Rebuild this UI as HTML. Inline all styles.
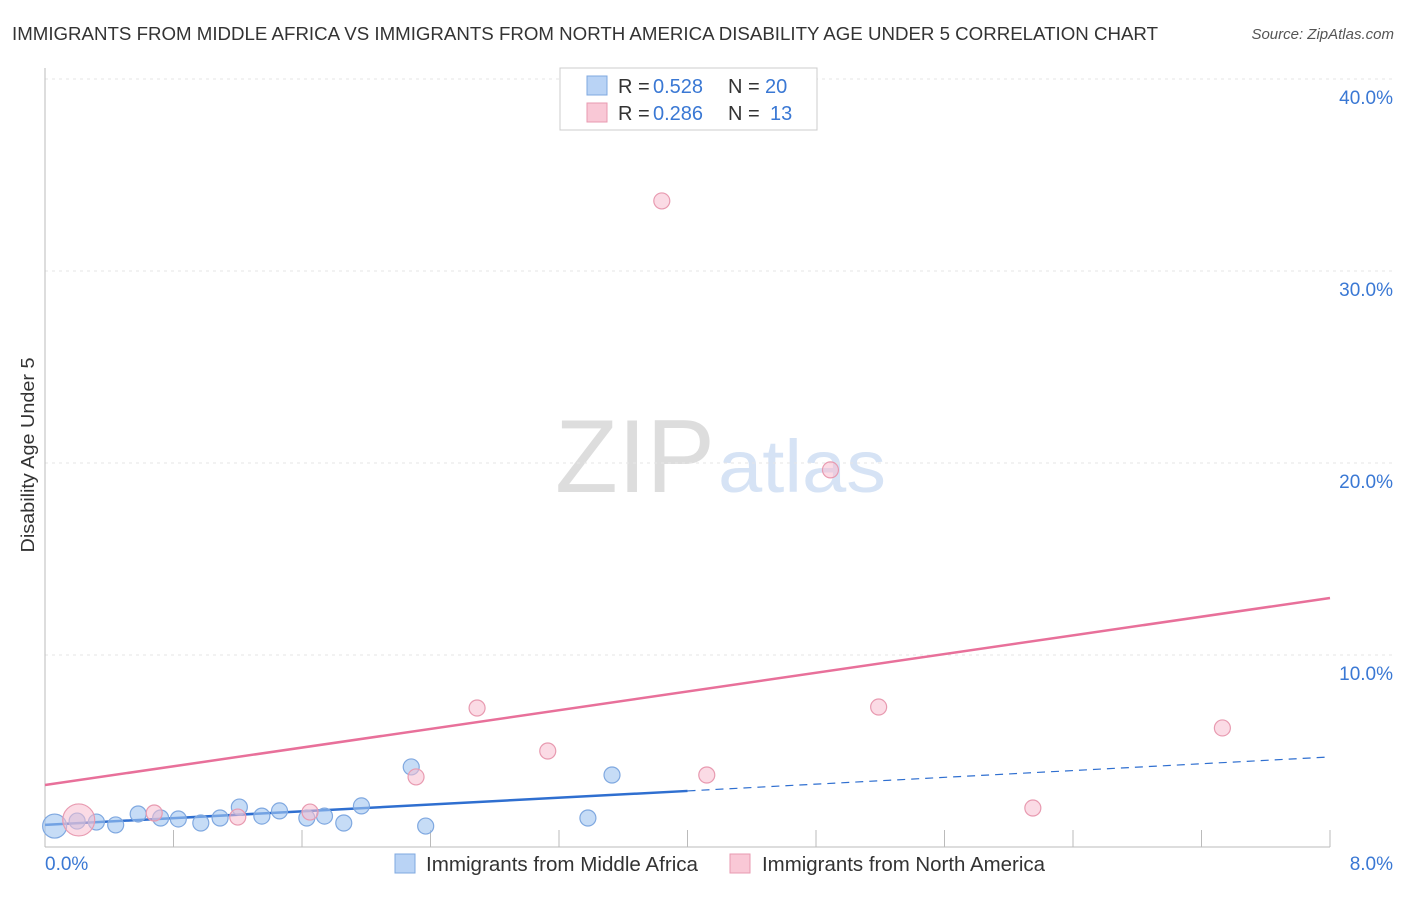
<!DOCTYPE html>
<html><head><meta charset="utf-8"><style>
body{margin:0;background:#fff;font-family:"Liberation Sans",sans-serif;}
svg text{font-family:"Liberation Sans",sans-serif;}
</style></head><body>
<svg id="c" width="1406" height="892" xmlns="http://www.w3.org/2000/svg">
<text x="12" y="40" font-size="18" fill="#333" textLength="1146" lengthAdjust="spacingAndGlyphs">IMMIGRANTS FROM MIDDLE AFRICA VS IMMIGRANTS FROM NORTH AMERICA DISABILITY AGE UNDER 5 CORRELATION CHART</text>
<text x="1394" y="39" font-size="15" fill="#555" font-style="italic" text-anchor="end">Source: ZipAtlas.com</text>
<text transform="translate(34,455) rotate(-90)" font-size="18" fill="#333" text-anchor="middle" textLength="195" lengthAdjust="spacingAndGlyphs">Disability Age Under 5</text>
<text x="555" y="492" font-size="104" fill="#ddd" font-family="Liberation Serif" textLength="160" lengthAdjust="spacingAndGlyphs">ZIP</text>
<text x="718" y="492" font-size="74" fill="#d6e3f5" textLength="168" lengthAdjust="spacingAndGlyphs">atlas</text>
<g id="grid"></g><g id="axes"></g><g id="lines"></g><g id="pts"></g>
<g>
<rect x="560" y="68" width="257" height="62" fill="#fff" stroke="#ccc"/>
<rect x="587" y="76" width="20" height="19" fill="#b9d3f5" stroke="#7fa8e0"/>
<rect x="587" y="103" width="20" height="19" fill="#f9c8d6" stroke="#e89ab0"/>
<text y="93" font-size="20" fill="#333"><tspan x="618">R =</tspan><tspan x="653" fill="#3a78d4">0.528</tspan><tspan x="728">N =</tspan><tspan x="765" fill="#3a78d4">20</tspan></text>
<text y="120" font-size="20" fill="#333"><tspan x="618">R =</tspan><tspan x="653" fill="#3a78d4">0.286</tspan><tspan x="728">N =</tspan><tspan x="770" fill="#3a78d4">13</tspan></text>
</g>
<g>
<rect x="395" y="854" width="20" height="19" fill="#b9d3f5" stroke="#7fa8e0"/>
<text x="426" y="871" font-size="20" fill="#333" textLength="272" lengthAdjust="spacingAndGlyphs">Immigrants from Middle Africa</text>
<rect x="730" y="854" width="20" height="19" fill="#f9c8d6" stroke="#e89ab0"/>
<text x="762" y="871" font-size="20" fill="#333" textLength="283" lengthAdjust="spacingAndGlyphs">Immigrants from North America</text>
</g>
</svg>
<script>
const blueX=[0.06,0.20,0.32,0.44,0.58,0.72,0.83,0.97,1.09,1.21,1.35,1.46,1.63,1.74,1.86,1.97,2.28,2.37,3.38,3.53];
const blueY=[1.09,1.35,1.30,1.15,1.72,1.51,1.46,1.25,1.51,2.08,1.61,1.88,1.51,1.61,1.25,2.14,4.17,1.09,1.51,3.75];
const pinkX=[0.21,0.68,1.20,1.65,2.31,2.69,3.13,3.84,4.12,4.89,5.19,6.15,7.33];
const pinkY=[1.41,1.77,1.56,1.82,3.65,7.24,5.00,33.65,3.75,19.64,7.29,2.03,6.20];
const blueTrend=[1.15,4.69];
const pinkTrend=[3.23,12.97];
const yTicks=[10,20,30,40];
const xTickLabels=["0.0%","8.0%"];
const NS="http://www.w3.org/2000/svg";
const sx=v=>45+v/8*1285, sy=v=>847-v*19.2;
function mk(tag,attrs,parent){const e=document.createElementNS(NS,tag);for(const k in attrs)e.setAttribute(k,attrs[k]);document.getElementById(parent).appendChild(e);return e;}
yTicks.forEach(t=>{
 const l=mk('line',{x1:45,x2:1393,y1:sy(t),y2:sy(t),stroke:'#e6e6e6','stroke-dasharray':'3,4'},'grid');
 
 
 const tx=mk('text',{x:1393,y:sy(t)+25,'font-size':19,fill:'#3a78d4','text-anchor':'end'},'grid');
 tx.textContent=t.toFixed(1)+'%';
 
 
});
const ax=mk('line',{x1:45,x2:45,y1:68,y2:847,stroke:'#bbb'},'axes');


const bx=mk('line',{x1:45,x2:1330,y1:847,y2:847,stroke:'#bbb'},'axes');


for(let i=1;i<=10;i++){const t=mk('line',{x1:sx(i*0.8),x2:sx(i*0.8),y1:830,y2:847,stroke:'#bbb'},'axes');
 
 }
[[0,'start',45],[1,'end',1393]].forEach(([i,a,x])=>{const t=mk('text',{x:x,y:870,'font-size':19,fill:'#3a78d4','text-anchor':a},'axes');t.textContent=xTickLabels[i];
 
 });
const pl=mk('line',{x1:sx(0),y1:sy(pinkTrend[0]),x2:sx(8),y2:sy(pinkTrend[1]),stroke:'#e8709a','stroke-width':2.5},'lines');


const bm=v=>blueTrend[0]+(blueTrend[1]-blueTrend[0])*v/8;
const bl=mk('line',{x1:sx(0),y1:sy(bm(0)),x2:sx(4),y2:sy(bm(4)),stroke:'#2f6fd0','stroke-width':2.5},'lines');


const bd=mk('line',{x1:sx(4),y1:sy(bm(4)),x2:sx(8),y2:sy(bm(8)),stroke:'#2f6fd0','stroke-width':1.2,'stroke-dasharray':'8,6'},'lines');


blueX.forEach((x,i)=>{const c=mk('circle',{cx:sx(x),cy:sy(blueY[i]),r:i==0?12:8,fill:'rgba(160,196,240,0.6)',stroke:'#7fa8e0','stroke-width':1.2},'pts');
 
 });
pinkX.forEach((x,i)=>{const c=mk('circle',{cx:sx(x),cy:sy(pinkY[i]),r:i==0?16:8,fill:'rgba(248,190,208,0.55)',stroke:'#e89ab0','stroke-width':1.2},'pts');
 
 });
</script>
</body></html>
